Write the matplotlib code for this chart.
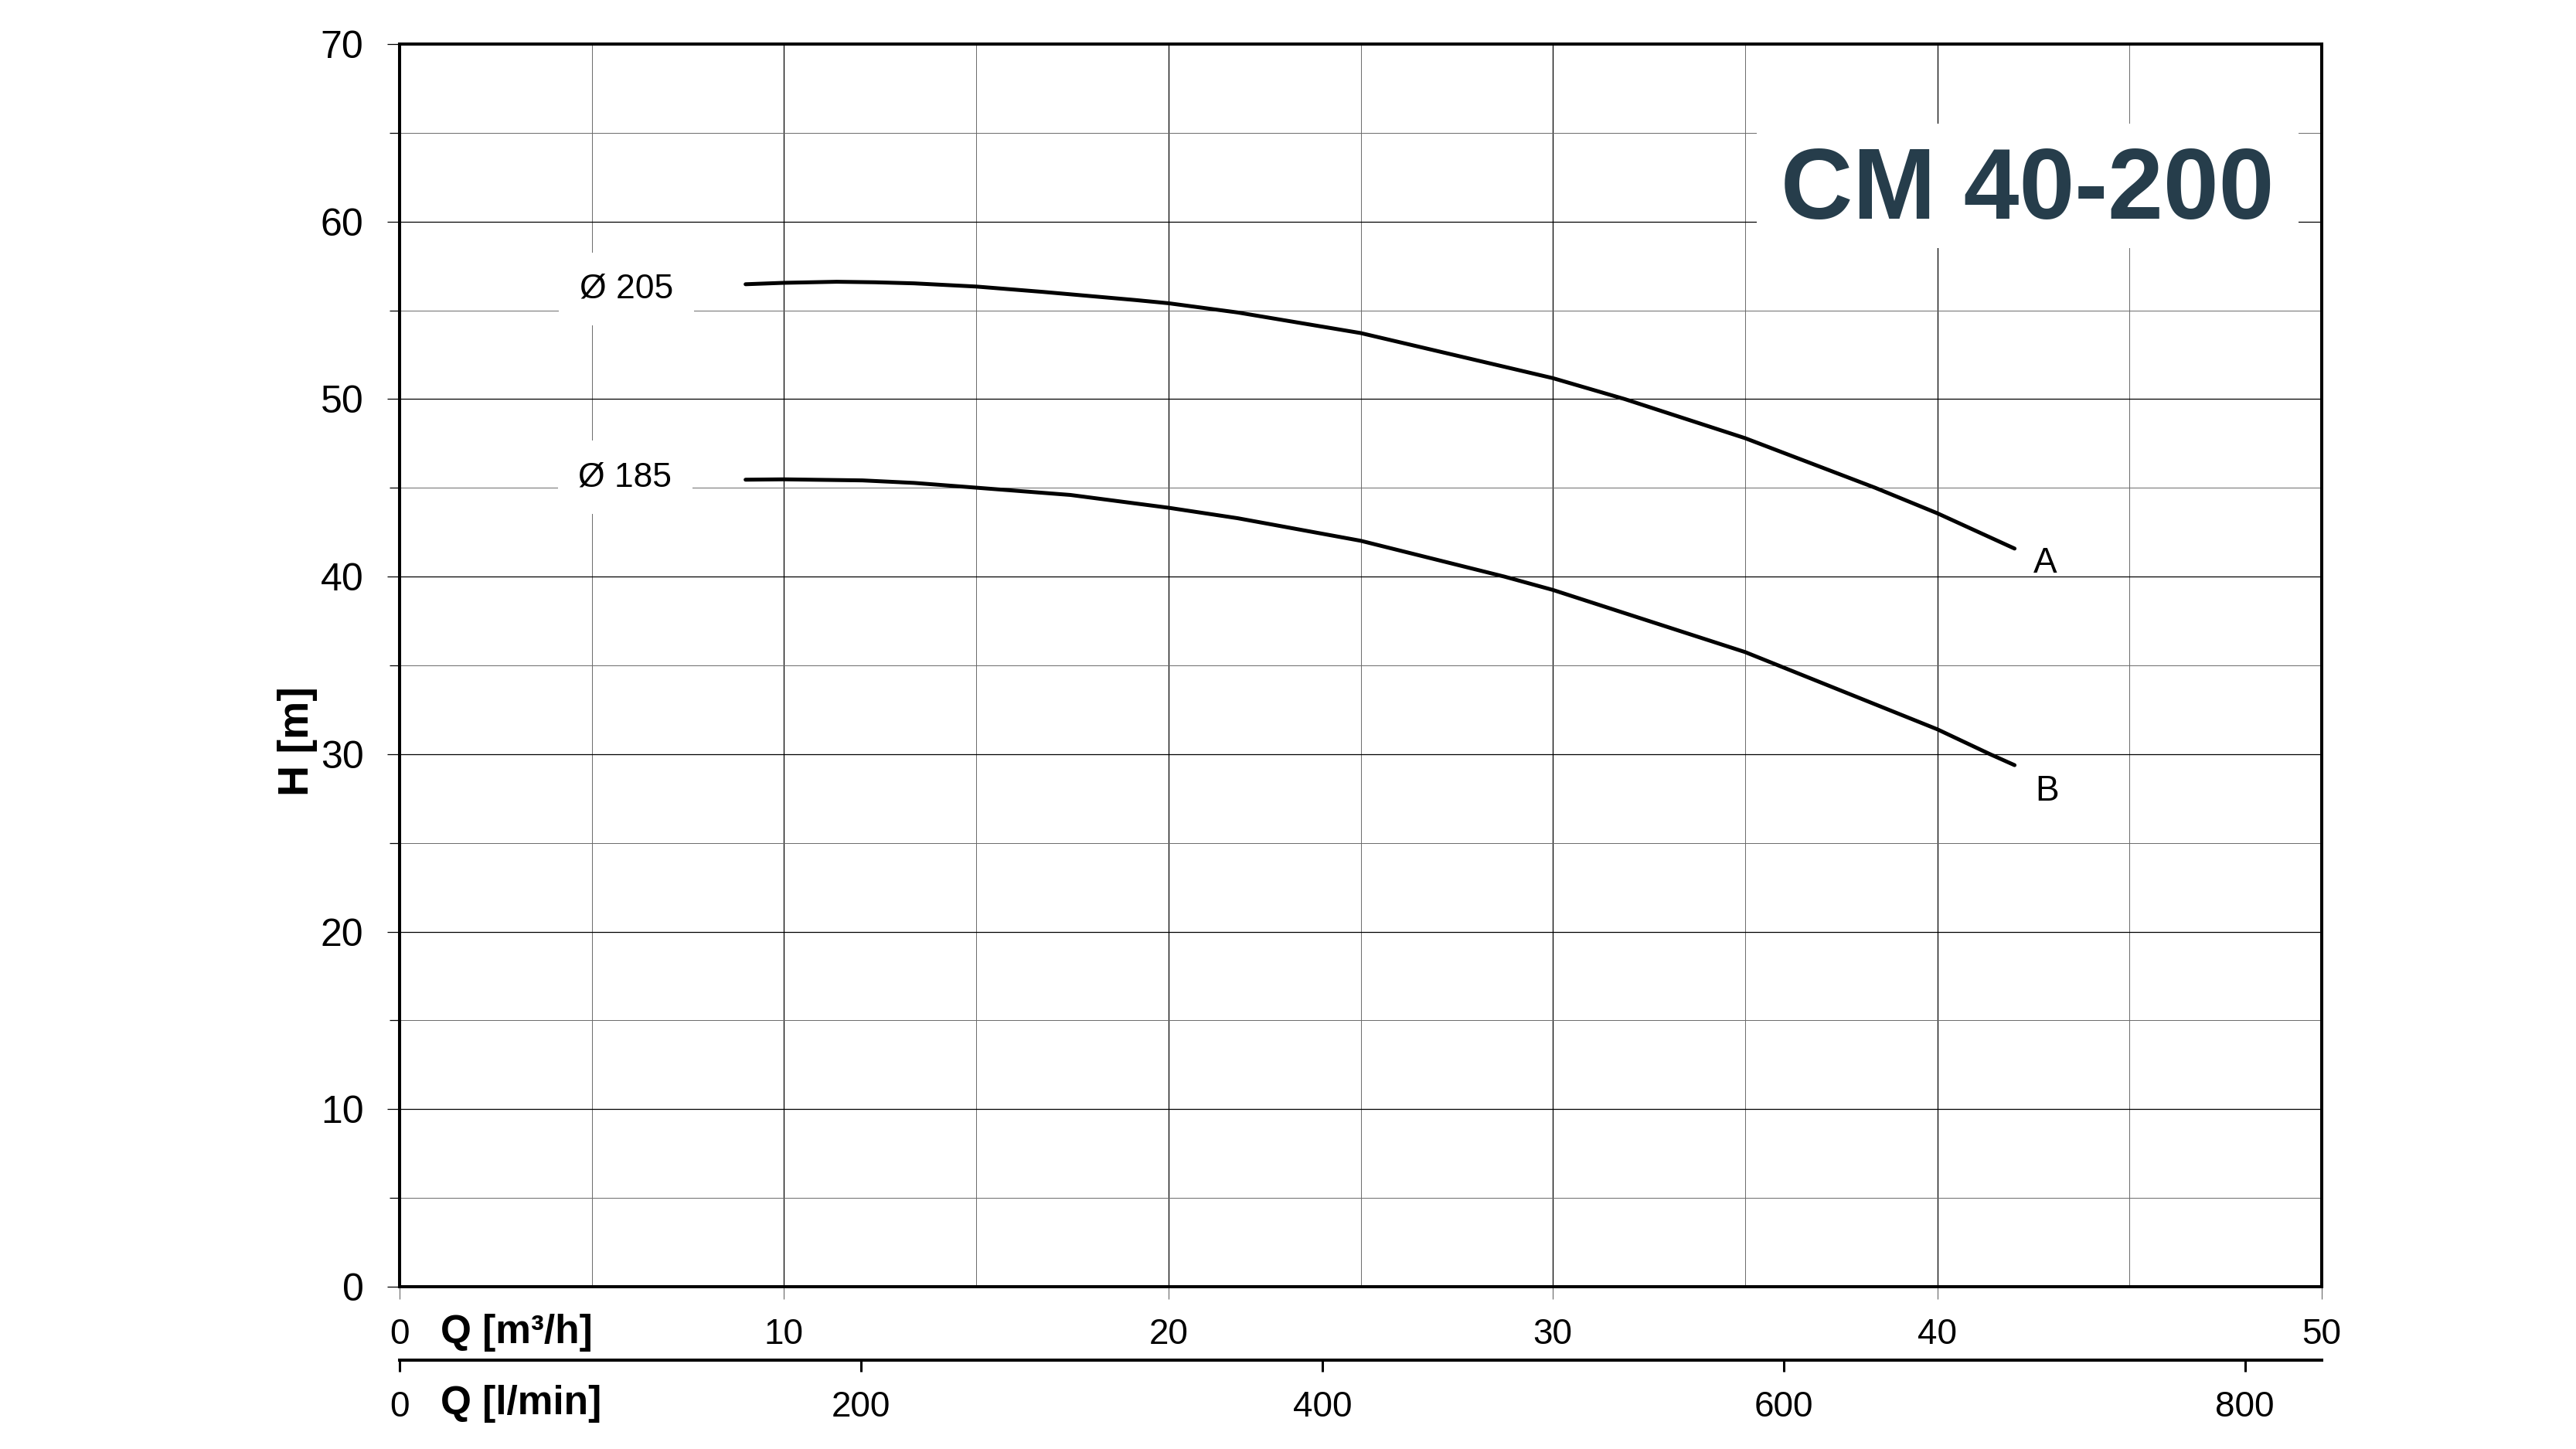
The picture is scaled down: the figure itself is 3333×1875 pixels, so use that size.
import matplotlib
matplotlib.use("Agg")
import matplotlib.pyplot as plt
from matplotlib import font_manager
from matplotlib.patches import Rectangle
from matplotlib.ticker import MultipleLocator

# ---------------- data ----------------
q_a = [9.0, 10, 11.37, 12.38, 13.38, 15, 16.73, 19.14, 20, 21.8, 25, 30, 31.87, 35, 38.39, 40, 42.01]
h_a = [56.47, 56.55, 56.61, 56.58, 56.52, 56.34, 56.04, 55.58, 55.40, 54.88, 53.72, 51.18, 50.0, 47.8, 45.0, 43.57, 41.58]
q_b = [9.0, 10, 12.04, 13.38, 15, 17.45, 20, 21.8, 25, 28.74, 30, 35, 40, 41.37, 42.01]
h_b = [45.46, 45.48, 45.42, 45.28, 45.01, 44.6, 43.88, 43.29, 42.02, 40.0, 39.25, 35.75, 31.4, 30.0, 29.38]
curve_names = ["A", "B"]
diam_labels = ["Ø 205", "Ø 185"]
title = "CM 40-200"
x_ticks = [0, 10, 20, 30, 40, 50]
y_ticks = [0, 10, 20, 30, 40, 50, 60, 70]
lmin_ticks = [0, 200, 400, 600, 800]

# ---------------- fonts ----------------
names = {f.name for f in font_manager.fontManager.ttflist}
NARROW = "Liberation Sans Narrow" in names
REG = ["Liberation Sans", "DejaVu Sans"]
NAR = (["Liberation Sans Narrow"] if NARROW else []) + REG
plt.rcParams["font.family"] = REG

W, H = 3333, 1875
fig = plt.figure(figsize=(W / 100, H / 100), dpi=100)
L, R, T, B = 517, 3004, 57, 1665
ax = fig.add_axes([L / W, 1 - B / H, (R - L) / W, (B - T) / H])
ax.set_xlim(0, 50)
ax.set_ylim(0, 70)

for s in ax.spines.values():
    s.set_linewidth(2.9)
    s.set_color("black")

ax.set_xticks(x_ticks)
ax.xaxis.set_minor_locator(MultipleLocator(5))
ax.set_yticks(y_ticks)
ax.yaxis.set_minor_locator(MultipleLocator(5))
ax.set_axisbelow(True)
ax.grid(which="major", color="black", linewidth=0.9)
ax.grid(which="minor", color="#6a6a6a", linewidth=0.7)

ax.tick_params(axis="y", which="major", direction="out", length=11.5, width=0.9, pad=22)
ax.tick_params(axis="y", which="minor", direction="out", length=9.5, width=0.9)
ax.tick_params(axis="x", which="major", direction="out", length=11.5, width=0.7, color="#555555", pad=17)
ax.tick_params(axis="x", which="minor", length=0)
for lab in ax.get_yticklabels():
    lab.set_fontfamily(REG)
    lab.set_fontsize(36)
for lab in ax.get_xticklabels():
    lab.set_fontfamily(NAR)
    lab.set_fontsize(38 if NARROW else 33)

# secondary l/min axis
sec = ax.secondary_xaxis(-0.0591, functions=(lambda q: q * 1000 / 60, lambda l: l * 60 / 1000))
sec.set_xticks(lmin_ticks)
sec.spines["bottom"].set_linewidth(2.9)
sec.tick_params(axis="x", which="major", direction="out", length=11, width=2.2, pad=17)
sec.tick_params(axis="x", which="minor", length=0)
for lab in sec.get_xticklabels():
    lab.set_fontfamily(NAR)
    lab.set_fontsize(38 if NARROW else 33)

# curves
ax.plot(q_a, h_a, color="black", lw=3.6, solid_capstyle="round", solid_joinstyle="round", zorder=3)
ax.plot(q_b, h_b, color="black", lw=3.6, solid_capstyle="round", solid_joinstyle="round", zorder=3)

ax.text(42.8, 40.75, curve_names[0], ha="center", va="center", fontsize=33, zorder=4)
ax.text(42.85, 27.9, curve_names[1], ha="center", va="center", fontsize=33, zorder=4)

box = dict(facecolor="white", edgecolor="none", boxstyle="square,pad=0.6")
ax.text(5.9, 56.2, diam_labels[0], ha="center", va="center", fontsize=32, bbox=box, zorder=4)
ax.text(5.87, 45.6, diam_labels[1], ha="center", va="center", fontsize=32, bbox=box, zorder=4)

# title with white background
ax.add_patch(Rectangle((35.3, 58.5), 14.1, 7.0, facecolor="white", edgecolor="none", zorder=1))
ax.text(42.34, 61.6, title, ha="center", va="center", fontsize=106 if NARROW else 93,
        fontweight="bold", family=NAR, color="#263d4b", zorder=4)

# axis labels
ax.text(-0.0531, 0.439, "H [m]", transform=ax.transAxes, rotation=90, ha="center", va="center",
        fontsize=40, fontweight="bold")
qsize = 44 if NARROW else 37
ax.text(0.0213, -0.0367, "Q [m³/h]", transform=ax.transAxes, ha="left", va="center",
        fontsize=qsize, fontweight="bold", family=NAR)
ax.text(0.0213, -0.0945, "Q [l/min]", transform=ax.transAxes, ha="left", va="center",
        fontsize=qsize, fontweight="bold", family=NAR)

fig.savefig("out.png", dpi=100, facecolor="white")
